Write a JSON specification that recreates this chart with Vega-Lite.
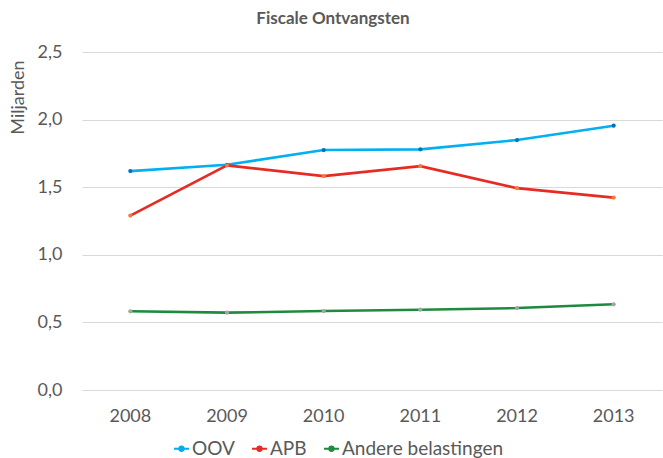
{
  "$schema": "https://vega.github.io/schema/vega-lite/v6.json",
  "width": 580,
  "height": 338,
  "autosize": {"type": "none"},
  "padding": {"left": 82, "top": 52, "right": 1, "bottom": 68},
  "background": "white",
  "title": {
    "text": "Fiscale Ontvangsten",
    "font": "Lato",
    "fontSize": 17,
    "fontWeight": "bold",
    "color": "#595959",
    "anchor": "middle",
    "dx": -39,
    "offset": 15
  },
  "config": {
    "view": {"stroke": null},
    "font": "Lato"
  },
  "data": {
    "values": [
      {"jaar": "2008", "reeks": "OOV", "waarde": 1.619},
      {"jaar": "2009", "reeks": "OOV", "waarde": 1.666},
      {"jaar": "2010", "reeks": "OOV", "waarde": 1.775},
      {"jaar": "2011", "reeks": "OOV", "waarde": 1.780},
      {"jaar": "2012", "reeks": "OOV", "waarde": 1.849},
      {"jaar": "2013", "reeks": "OOV", "waarde": 1.955},
      {"jaar": "2008", "reeks": "APB", "waarde": 1.290},
      {"jaar": "2009", "reeks": "APB", "waarde": 1.661},
      {"jaar": "2010", "reeks": "APB", "waarde": 1.582},
      {"jaar": "2011", "reeks": "APB", "waarde": 1.656},
      {"jaar": "2012", "reeks": "APB", "waarde": 1.493},
      {"jaar": "2013", "reeks": "APB", "waarde": 1.423},
      {"jaar": "2008", "reeks": "Andere belastingen", "waarde": 0.582},
      {"jaar": "2009", "reeks": "Andere belastingen", "waarde": 0.572},
      {"jaar": "2010", "reeks": "Andere belastingen", "waarde": 0.584},
      {"jaar": "2011", "reeks": "Andere belastingen", "waarde": 0.594},
      {"jaar": "2012", "reeks": "Andere belastingen", "waarde": 0.606},
      {"jaar": "2013", "reeks": "Andere belastingen", "waarde": 0.634}
    ]
  },
  "encoding": {
    "x": {
      "field": "jaar",
      "type": "ordinal",
      "scale": {"type": "band", "paddingInner": 0, "paddingOuter": 0},
      "axis": {
        "title": null,
        "labelAngle": 0,
        "labelFont": "Lato",
        "labelFontSize": 18,
        "labelColor": "#595959",
        "labelPadding": 17,
        "ticks": false,
        "domain": false,
        "grid": false
      }
    },
    "y": {
      "field": "waarde",
      "type": "quantitative",
      "scale": {"domain": [0, 2.5], "nice": false, "zero": true},
      "axis": {
        "title": "Miljarden",
        "titleFont": "Lato",
        "titleFontSize": 18,
        "titleFontWeight": "normal",
        "titleColor": "#595959",
        "titleAngle": -90,
        "titleX": -64,
        "titleY": 45,
        "titleAlign": "center",
        "titleBaseline": "middle",
        "values": [0, 0.5, 1, 1.5, 2, 2.5],
        "format": ".1f",
        "labelExpr": "replace(datum.label, '.', ',')",
        "labelFont": "Lato",
        "labelFontSize": 18,
        "labelColor": "#595959",
        "labelPadding": 20,
        "ticks": false,
        "domain": false,
        "grid": true,
        "gridColor": "#D9D9D9",
        "gridWidth": 1.2
      }
    }
  },
  "layer": [
    {
      "mark": {"type": "line", "strokeWidth": 2.6},
      "encoding": {
        "stroke": {
          "field": "reeks",
          "type": "nominal",
          "scale": {
            "domain": ["OOV", "APB", "Andere belastingen"],
            "range": ["#00B0F0", "#E62B25", "#1E8A3E"]
          },
          "legend": {
            "title": null,
            "orient": "none",
            "legendX": 90,
            "legendY": 387,
            "direction": "horizontal",
            "symbolType": "M-1,0L1,0M-0.3,0A0.3,0.3,0,1,0,0.3,0A0.3,0.3,0,1,0,-0.3,0Z",
            "symbolSize": 225,
            "symbolStrokeWidth": 1.8,
            "labelFont": "Lato",
            "labelFontSize": 19,
            "labelColor": "#595959",
            "labelOffset": 1,
            "labelLimit": 400,
            "columnPadding": 13,
            "encode": {
              "symbols": {
                "update": {
                  "fill": {"signal": "datum.value == 'OOV' ? '#0070C0' : datum.value == 'APB' ? '#F47A3A' : '#A5A5A5'"},
                  "fillOpacity": {"value": 1}
                }
              }
            }
          }
        }
      }
    },
    {
      "mark": {"type": "point", "filled": true, "size": 18, "opacity": 1},
      "encoding": {
        "fill": {
          "field": "reeks",
          "type": "nominal",
          "scale": {
            "domain": ["OOV", "APB", "Andere belastingen"],
            "range": ["#0070C0", "#F47A3A", "#A5A5A5"]
          },
          "legend": null
        }
      }
    }
  ]
}
